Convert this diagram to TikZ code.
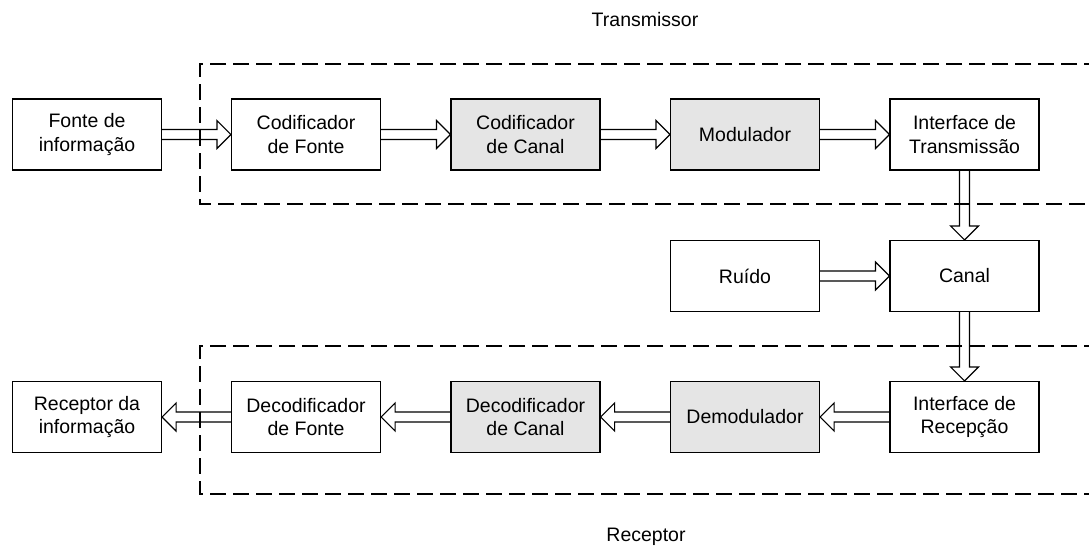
\documentclass[tikz,border=0pt]{standalone}
\usepackage{fontspec}
\setmainfont{Liberation Sans}
\usetikzlibrary{calc}
\tikzset{
  blk/.style={draw, line width=1.2pt, minimum width=149pt, minimum height=71pt, inner sep=0pt, align=center, font=\fontsize{19.5}{23.5}\selectfont},
  grey/.style={blk, fill=black!10},
  dashbox/.style={draw, line width=1.4pt, dash pattern=on 16pt off 7pt},
  barrow/.style={draw, line width=1.2pt, line join=miter},
  lbl/.style={font=\fontsize{19.5}{23.5}\selectfont, anchor=base, inner sep=0pt}
}
\newcommand\arrR[2]{\path[barrow] let \p1=(#1.east), \p2=(#2.west) in (\x1,\y1+5pt) -- (\x2-14pt,\y1+5pt) -- (\x2-14pt,\y1+14pt) -- (\x2,\y1) -- (\x2-14pt,\y1-14pt) -- (\x2-14pt,\y1-5pt) -- (\x1,\y1-5pt);}
\newcommand\arrL[2]{\path[barrow] let \p1=(#1.west), \p2=(#2.east) in (\x1,\y1+5pt) -- (\x2+14pt,\y1+5pt) -- (\x2+14pt,\y1+14pt) -- (\x2,\y1) -- (\x2+14pt,\y1-14pt) -- (\x2+14pt,\y1-5pt) -- (\x1,\y1-5pt);}
\newcommand\arrD[2]{\path[barrow] let \p1=(#1.south), \p2=(#2.north) in (\x1-5pt,\y1) -- (\x1-5pt,\y2+14pt) -- (\x1-14pt,\y2+14pt) -- (\x1,\y2) -- (\x1+14pt,\y2+14pt) -- (\x1+5pt,\y2+14pt) -- (\x1+5pt,\y1);}
\begin{document}
\begin{tikzpicture}[x=1pt,y=-1pt]
\useasboundingbox (0,0) rectangle (1089,546);
\clip (0,0) rectangle (1089,546);
% dashed regions
\draw[dashbox] (1100,64) -- (200,64) -- (200,204) -- (1100,204);
\draw[dashbox] (1100,346) -- (200,346) -- (200,494) -- (1100,494);
\node[lbl] (tx) at (645,27) {Transmissor};
\node[lbl] (rx) at (646,541) {Receptor};
% row 1
\node[blk] (fonte) at (87,134.5) {Fonte de\\informação};
\node[blk] (codf) at (306,134.5) {Codificador\\de Fonte};
\node[grey] (codc) at (525.5,134.5) {Codificador\\de Canal};
\node[grey] (mod) at (745,134.5) {Modulador};
\node[blk] (itx) at (964.5,134.5) {Interface de\\Transmissão};
% row 2
\node[blk] (ruido) at (745,276) {Ruído};
\node[blk] (canal) at (964.5,276) {Canal};
% row 3
\node[blk] (recinf) at (87,417) {Receptor da\\informação};
\node[blk] (decf) at (306,417) {Decodificador\\de Fonte};
\node[grey] (decc) at (525.5,417) {Decodificador\\de Canal};
\node[grey] (demod) at (745,417) {Demodulador};
\node[blk] (irx) at (964.5,417) {Interface de\\Recepção};
% arrows
\arrR{fonte}{codf}
\arrR{codf}{codc}
\arrR{codc}{mod}
\arrR{mod}{itx}
\arrD{itx}{canal}
\arrR{ruido}{canal}
\arrD{canal}{irx}
\arrL{irx}{demod}
\arrL{demod}{decc}
\arrL{decc}{decf}
\arrL{decf}{recinf}
\end{tikzpicture}
\end{document}
